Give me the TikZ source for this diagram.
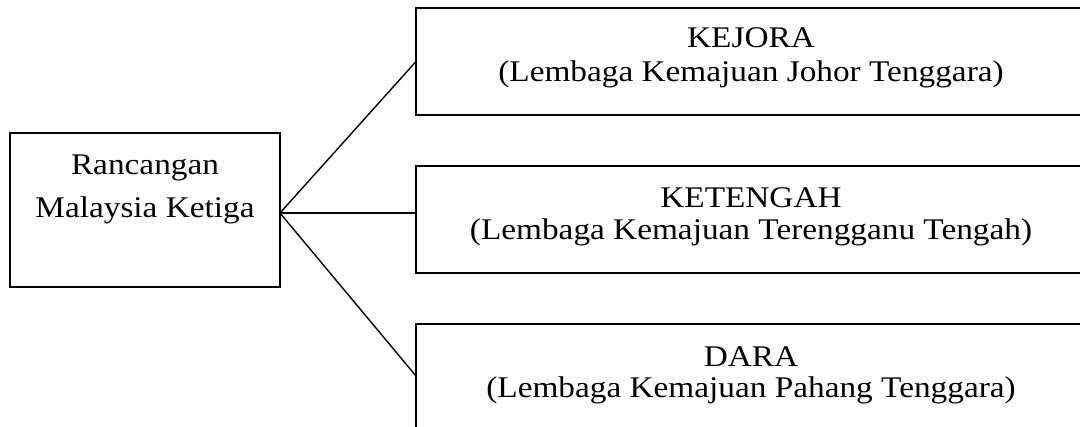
\documentclass[tikz,border=0pt]{standalone}
\usepackage{fontspec}
\setmainfont[FakeStretch=1.11]{Liberation Serif}
\begin{document}
\begin{tikzpicture}[x=1pt,y=-1pt,
  box/.style={draw=black,line width=1.4pt,fill=none,inner sep=0pt,outer sep=0pt},
  lbl/.style={anchor=base,inner sep=0pt,font=\fontsize{30}{32}\selectfont},
  conn/.style={draw=black,line width=1.4pt}]
\useasboundingbox (0,0) rectangle (1080,427);
\clip (0,0) rectangle (1080,427);
% boxes
\node[box,minimum width=270pt,minimum height=154pt] (L) at (145,210) {};
\node[box,minimum width=670pt,minimum height=107pt] (K) at (751,61.5) {};
\node[box,minimum width=670pt,minimum height=107pt] (M) at (751,219.5) {};
\node[box,minimum width=670pt,minimum height=107pt] (D) at (751,377.5) {};
% texts
\node[lbl] (l1) at (145,175) {Rancangan};
\node[lbl] (l2) at (145,218) {Malaysia Ketiga};
\node[lbl] (k1) at (751,48) {KEJORA};
\node[lbl] (k2) at (751,82) {(Lembaga Kemajuan Johor Tenggara)};
\node[lbl] (m1) at (751,208) {KETENGAH};
\node[lbl] (m2) at (751,240) {(Lembaga Kemajuan Terengganu Tengah)};
\node[lbl] (d1) at (751,367) {DARA};
\node[lbl] (d2) at (751,398) {(Lembaga Kemajuan Pahang Tenggara)};
% connectors
\coordinate (J) at ([yshift=-3pt]L.east);
\coordinate (Mw) at (M.west |- J);
\coordinate (Dw) at (416,376);
\draw[conn] (J) -- (K.west);
\draw[conn] (J) -- (Mw);
\draw[conn] (J) -- (Dw);
\end{tikzpicture}
\end{document}
